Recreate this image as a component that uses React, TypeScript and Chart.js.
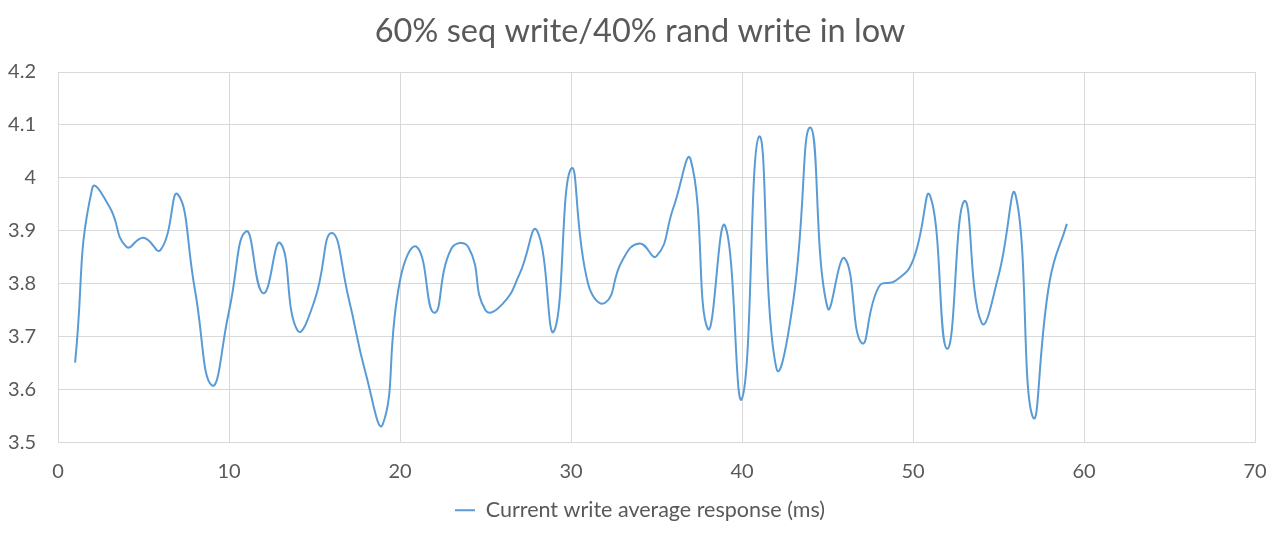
import React, { useEffect, useRef } from "react";
import { Chart, registerables } from "chart.js";

Chart.register(...registerables);

const TITLE = "60% seq write/40% rand write in low";
const SERIES_LABEL = "Current write average response (ms)";
const xValues = [
  1, 2, 3, 4, 5, 6, 7, 8, 9, 10, 11, 12, 13, 14, 15, 16, 17, 18, 19, 20,
  21, 22, 23, 24, 25, 26, 27, 28, 29, 30, 31, 32, 33, 34, 35, 36, 37, 38, 39, 40,
  41, 42, 43, 44, 45, 46, 47, 48, 49, 50, 51, 52, 53, 54, 55, 56, 57, 58, 59,
];
const responseMs = [
  3.651, 3.98, 3.946, 3.87, 3.887, 3.864, 3.969, 3.79, 3.608, 3.748,
  3.899, 3.782, 3.877, 3.712, 3.768, 3.896, 3.772, 3.63, 3.535, 3.806,
  3.869, 3.745, 3.866, 3.869, 3.75, 3.762, 3.819, 3.901, 3.71, 4.017,
  3.8, 3.764, 3.844, 3.876, 3.852, 3.945, 4.034, 3.715, 3.91, 3.583,
  4.078, 3.642, 3.768, 4.095, 3.755, 3.848, 3.688, 3.794, 3.806, 3.844,
  3.966, 3.677, 3.956, 3.727, 3.815, 3.967, 3.549, 3.806, 3.913,
];
const xMin = 0;
const xMax = 70;
const xStep = 10;
const yMin = 3.5;
const yMax = 4.2;
const yStep = 0.1;

const FONT = "Lato, 'Open Sans', sans-serif";
const TEXT = "#595959";
const GRID = "#d9d9d9";
const LINE = "#5b9bd5";

export default function App() {
  const ref = useRef<HTMLCanvasElement | null>(null);
  useEffect(() => {
    if (!ref.current) return;
    const chart = new Chart(ref.current, {
      type: "line",
      data: {
        datasets: [
          {
            label: SERIES_LABEL,
            data: xValues.map((x, i) => ({ x, y: responseMs[i] })),
            borderColor: LINE,
            backgroundColor: LINE,
            borderWidth: 2,
            pointRadius: 0,
            tension: 0.5,
            fill: false,
            yAxisID: "y",
          },
        ],
      },
      options: {
        animation: false,
        responsive: true,
        maintainAspectRatio: false,
        layout: { padding: { left: 0, right: 0, top: 12, bottom: 3 } },
        plugins: {
          title: {
            display: true,
            text: TITLE,
            color: TEXT,
            font: { family: FONT, size: 32.5, weight: "normal" },
            padding: { top: 0, bottom: 21 },
          },
          legend: {
            display: true,
            position: "bottom",
            labels: {
              color: TEXT,
              font: { family: FONT, size: 21.5 },
              usePointStyle: true,
              pointStyle: "line",
              pointStyleWidth: 20,
              boxHeight: 2,
              padding: 8,
            },
          },
          tooltip: { enabled: false },
        },
        scales: {
          x: {
            type: "linear",
            min: xMin,
            max: xMax,
            ticks: {
              stepSize: xStep,
              color: TEXT,
              font: { family: FONT, size: 20 },
              padding: 4,
              maxRotation: 0,
            },
            grid: {
              color: GRID,
              drawTicks: true,
              tickLength: 13,
              tickColor: "rgba(0,0,0,0)",
              lineWidth: 1,
            },
            border: { color: GRID },
            afterFit: (s: any) => {
              s.height = 49;
            },
          },
          y: {
            type: "linear",
            position: "left",
            min: yMin,
            max: yMax,
            ticks: {
              stepSize: yStep,
              color: TEXT,
              font: { family: FONT, size: 20 },
              padding: 22,
              callback: (v: any) => String(Number(Number(v).toFixed(1))),
            },
            grid: { color: GRID, drawTicks: false, lineWidth: 1 },
            border: { color: GRID },
            afterFit: (s: any) => {
              s.width = 58;
            },
          },
          spacer: {
            type: "linear",
            position: "right",
            display: true,
            min: yMin,
            max: yMax,
            ticks: { display: false },
            grid: { display: false, drawTicks: false },
            border: { display: false },
            afterFit: (s: any) => {
              s.width = 25;
            },
          },
        },
      },
    });
    return () => chart.destroy();
  }, []);
  return (
    <div
      style={{
        position: "fixed",
        left: 0,
        top: 0,
        width: 1280,
        height: 534,
        background: "#fff",
      }}
    >
      <canvas ref={ref} />
    </div>
  );
}
